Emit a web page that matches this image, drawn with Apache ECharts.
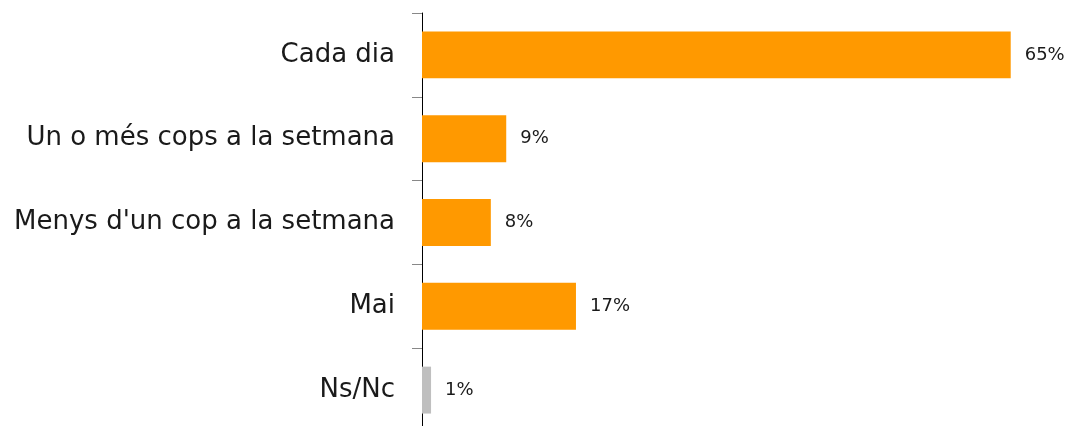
<!DOCTYPE html>
<html>
<head>
<meta charset="utf-8">
<script src="https://cdn.jsdelivr.net/npm/echarts@6/dist/echarts.min.js"></script>
<style>
  html, body { margin: 0; padding: 0; background: #fff; overflow: hidden; }
  #chart { width: 1073px; height: 440px; }
</style>
</head>
<body>
<div id="chart"></div>
<script>
const categories = ['Cada dia', 'Un o més cops a la setmana', "Menys d'un cop a la setmana", 'Mai', 'Ns/Nc'];
const values = [65.0, 9.3, 7.6, 17.0, 1.0];
const labels = ['65%', '9%', '8%', '17%', '1%'];
const colors = ['#FF9900', '#FF9900', '#FF9900', '#FF9900', '#BFBFBF'];

const chart = echarts.init(document.getElementById('chart'));
chart.setOption({
  backgroundColor: '#fff',
  animation: false,
  grid: { left: 422, top: 13, width: 634, height: 419 },
  xAxis: {
    type: 'value',
    min: 0,
    max: 70,
    show: false
  },
  yAxis: {
    type: 'category',
    inverse: true,
    data: categories,
    axisLine: { show: true, lineStyle: { color: '#000', width: 1 } },
    axisTick: { show: true, length: 10, lineStyle: { color: '#888' } },
    axisLabel: {
      margin: 27,
      fontSize: 26,
      color: '#1a1a1a',
      fontFamily: 'DejaVu Sans'
    }
  },
  series: [{
    type: 'bar',
    barWidth: '56%',
    data: values.map((v, i) => ({ value: v, itemStyle: { color: colors[i] } })),
    label: {
      show: true,
      position: 'right',
      distance: 14,
      fontSize: 18,
      color: '#1a1a1a',
      fontFamily: 'DejaVu Sans',
      formatter: (p) => labels[p.dataIndex]
    }
  }]
});
</script>
</body>
</html>
